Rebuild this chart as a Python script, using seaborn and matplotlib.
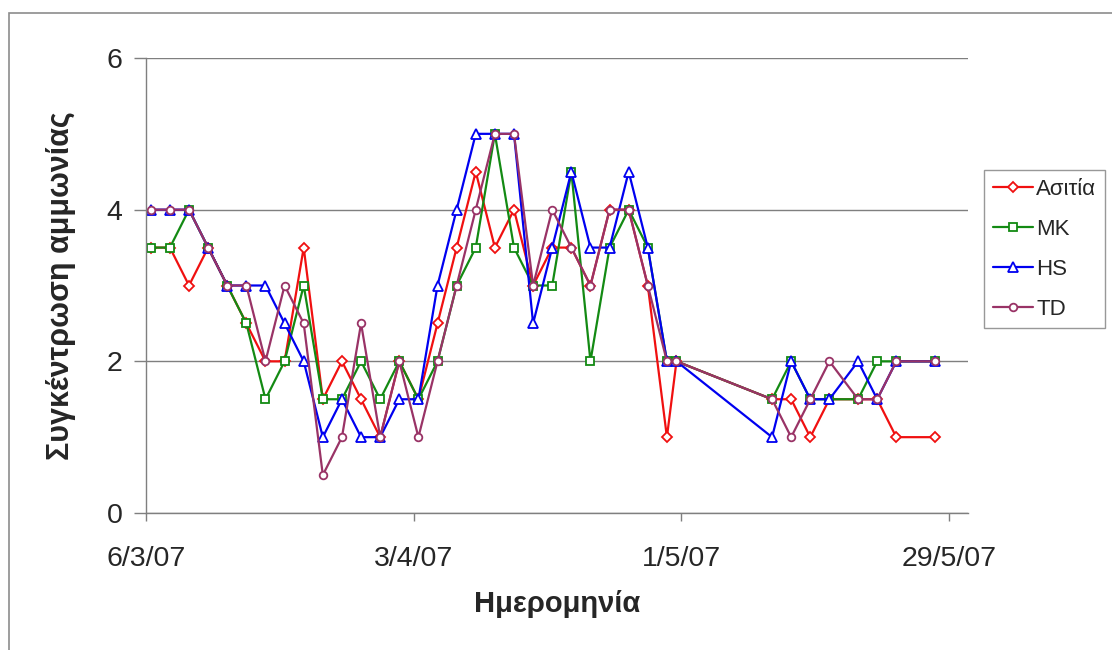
import matplotlib
matplotlib.use("Agg")
import matplotlib.pyplot as plt
import matplotlib.dates as mdates
from matplotlib.patches import Rectangle
import seaborn as sns
import pandas as pd

# ---- data ----
dates = ["2007-03-06", "2007-03-08", "2007-03-10", "2007-03-12", "2007-03-14",
         "2007-03-16", "2007-03-18", "2007-03-20", "2007-03-22", "2007-03-24",
         "2007-03-26", "2007-03-28", "2007-03-30", "2007-04-01", "2007-04-03",
         "2007-04-05", "2007-04-07", "2007-04-09", "2007-04-11", "2007-04-13",
         "2007-04-15", "2007-04-17", "2007-04-19", "2007-04-21", "2007-04-23",
         "2007-04-25", "2007-04-27", "2007-04-29", "2007-04-30", "2007-05-10",
         "2007-05-12", "2007-05-14", "2007-05-16", "2007-05-19", "2007-05-21",
         "2007-05-23", "2007-05-27"]

asitia = [3.5, 3.5, 3.0, 3.5, 3.0, 2.5, 2.0, 2.0, 3.5, 1.5, 2.0, 1.5, 1.0, 2.0, 1.5,
          2.5, 3.5, 4.5, 3.5, 4.0, 3.0, 3.5, 3.5, 3.0, 4.0, 4.0, 3.0, 1.0, 2.0,
          1.5, 1.5, 1.0, 1.5, 1.5, 1.5, 1.0, 1.0]
mk = [3.5, 3.5, 4.0, 3.5, 3.0, 2.5, 1.5, 2.0, 3.0, 1.5, 1.5, 2.0, 1.5, 2.0, 1.5,
      2.0, 3.0, 3.5, 5.0, 3.5, 3.0, 3.0, 4.5, 2.0, 3.5, 4.0, 3.5, 2.0, 2.0,
      1.5, 2.0, 1.5, 1.5, 1.5, 2.0, 2.0, 2.0]
hs = [4.0, 4.0, 4.0, 3.5, 3.0, 3.0, 3.0, 2.5, 2.0, 1.0, 1.5, 1.0, 1.0, 1.5, 1.5,
      3.0, 4.0, 5.0, 5.0, 5.0, 2.5, 3.5, 4.5, 3.5, 3.5, 4.5, 3.5, 2.0, 2.0,
      1.0, 2.0, 1.5, 1.5, 2.0, 1.5, 2.0, 2.0]
td = [4.0, 4.0, 4.0, 3.5, 3.0, 3.0, 2.0, 3.0, 2.5, 0.5, 1.0, 2.5, 1.0, 2.0, 1.0,
      2.0, 3.0, 4.0, 5.0, 5.0, 3.0, 4.0, 3.5, 3.0, 4.0, 4.0, 3.0, 2.0, 2.0,
      1.5, 1.0, 1.5, 2.0, 1.5, 1.5, 2.0, 2.0]

series_names = ["Ασιτία", "MK", "HS", "TD"]
series_values = [asitia, mk, hs, td]
colors = ["#F01010", "#138A13", "#0000F0", "#993366"]
markers = ["D", "s", "^", "o"]
marker_sizes = [5, 5.5, 6.5, 5.5]

tick_dates = ["2007-03-06", "2007-04-03", "2007-05-01", "2007-05-29"]
tick_labels = ["6/3/07", "3/4/07", "1/5/07", "29/5/07"]
y_ticks = [0, 2, 4, 6]

xlabel = "Ημερομηνία"
ylabel = "Συγκέντρωση αμμωνίας"

# ---- long-form table ----
rows = []
for name, vals in zip(series_names, series_values):
    for d, v in zip(dates, vals):
        rows.append({"date": pd.Timestamp(d) + pd.Timedelta(hours=12),
                     "value": v, "series": name})
df = pd.DataFrame(rows)

sns.set_theme(style="white")
plt.rcParams["font.family"] = ["Liberation Sans", "DejaVu Sans"]

fig = plt.figure(figsize=(11.12, 6.5), dpi=100)
ax = fig.add_axes([146 / 1112, 1 - 513 / 650, (968 - 146) / 1112, (513 - 58) / 650])

sns.lineplot(data=df, x="date", y="value", hue="series", style="series",
             hue_order=series_names, style_order=series_names,
             palette=dict(zip(series_names, colors)),
             markers=dict(zip(series_names, markers)),
             dashes=False, legend=False, ax=ax, linewidth=1.6)

for line, ms in zip(ax.lines, marker_sizes):
    line.set_markerfacecolor("white")
    line.set_markeredgecolor(line.get_color())
    line.set_markersize(ms)
    line.set_markeredgewidth(1.3)

ax.set_xlim(pd.Timestamp("2007-03-06"), pd.Timestamp("2007-05-31"))
ax.set_ylim(0, 6)
ax.set_xticks([mdates.date2num(pd.Timestamp(d)) for d in tick_dates])
ax.set_xticklabels(tick_labels)
ax.set_yticks(y_ticks)
ax.set_yticklabels([str(t) for t in y_ticks])

ax.yaxis.grid(True, color="#7f7f7f", linewidth=1.0)
ax.xaxis.grid(False)
ax.set_axisbelow(True)
for s in ["top", "right"]:
    ax.spines[s].set_visible(False)
for s in ["left", "bottom"]:
    ax.spines[s].set_color("#7f7f7f")
    ax.spines[s].set_linewidth(1.0)

ax.tick_params(axis="y", which="major", direction="out", length=9, width=1,
               color="#7f7f7f", labelsize=20.5, pad=8, left=True)
ax.tick_params(axis="x", which="major", direction="out", length=6, width=1,
               color="#7f7f7f", labelsize=20.5, pad=18, bottom=True)

ax.set_xlabel(xlabel, fontsize=21, fontweight="bold", labelpad=13)
ax.set_ylabel(ylabel, fontsize=22, fontweight="bold", labelpad=22)

leg = fig.legend(handles=ax.lines, labels=series_names, loc="upper left",
                 bbox_to_anchor=(984 / 1112, 1 - 170 / 650), bbox_transform=fig.transFigure,
                 borderaxespad=0, fontsize=16, frameon=True, fancybox=False,
                 edgecolor="#7f7f7f", handlelength=1.8, handletextpad=0.15,
                 labelspacing=0.85, borderpad=0.4)
leg.get_frame().set_linewidth(1.0)

# outer chart-area border
fig.add_artist(Rectangle((9 / 1112, -0.1), 1.2, 1.1 - 13 / 650, transform=fig.transFigure,
                         fill=False, edgecolor="#8c8c8c", linewidth=1.2))

fig.savefig("out.png", dpi=100, facecolor="white")
